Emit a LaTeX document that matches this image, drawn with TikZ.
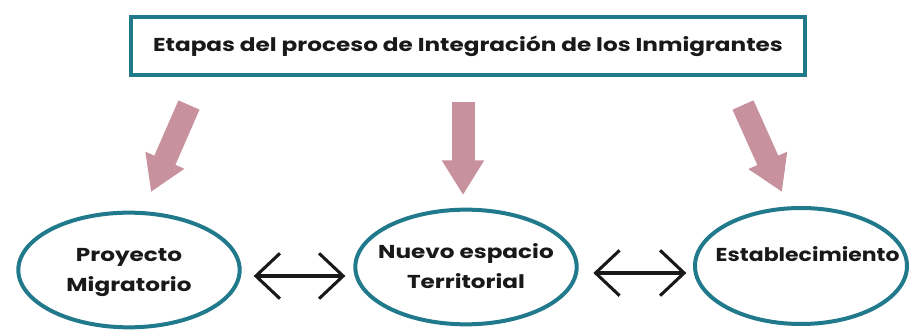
\documentclass[tikz,border=0pt]{standalone}
\usepackage{fontspec}
\setmainfont{Poppins}[FakeStretch=1.24]
\usetikzlibrary{shapes.geometric,arrows.meta}
\definecolor{teal1}{RGB}{33,121,140}
\definecolor{pink1}{RGB}{200,145,158}
\definecolor{ink}{RGB}{25,25,25}
\newcommand{\twolines}[2]{\makebox[0pt]{\raisebox{-4pt}{\begin{tabular}{@{}c@{}}#1\\#2\end{tabular}}}}
\newcommand{\oneline}[1]{\makebox[0pt]{\hspace{10pt}\raisebox{3pt}{\scalebox{0.95}[1]{#1}}}}
\tikzset{
  titlebox/.style={draw=teal1, line width=3pt, minimum width=505pt, minimum height=43.5pt, inner sep=0pt, font=\bfseries\fontsize{14}{16}\selectfont, text=ink},
  stage/.style={ellipse, draw=teal1, line width=3pt, inner sep=0pt, text height=0pt, text depth=0pt, align=center, font=\bfseries\fontsize{14}{22}\selectfont, text=ink},
  fat/.style={draw=pink1, line width=17.25pt, -{Triangle[length=26pt,width=30pt,fill=pink1]}},
  dbl/.style={draw=ink, line width=2.3pt, {Straight Barb[length=18pt,width=34pt]}-{Straight Barb[length=18pt,width=34pt]}}
}
\begin{document}
\begin{tikzpicture}[x=0.75pt,y=-0.75pt]
\useasboundingbox (0,0) rectangle (911,331);
\node[titlebox] (title) at (468,46) {Etapas del proceso de Integración de los Inmigrantes};
\node[stage, minimum width=166pt, minimum height=86pt] (e1) at (129,270) {\twolines{Proyecto}{Migratorio}};
\node[stage, minimum width=166pt, minimum height=86pt] (e2) at (466,267) {\twolines{Nuevo espacio}{Territorial}};
\node[stage, minimum width=159pt, minimum height=87pt] (e3) at (801,266) {\oneline{Establecimiento}};
\coordinate (a1s) at (189,105); \coordinate (a1e) at (151,192);
\coordinate (a2s) at (463,102); \coordinate (a2e) at (463,195);
\coordinate (a3s) at (743,105); \coordinate (a3e) at (782,192);
\draw[fat] (a1s) -- (a1e);
\draw[fat] (a2s) -- (a2e);
\draw[fat] (a3s) -- (a3e);
\draw[dbl] ([xshift=9pt,yshift=-4.5pt]e1.east) -- ([xshift=-6pt,yshift=-6.75pt]e2.west);
\draw[dbl] ([xshift=11pt,yshift=-4.5pt]e2.east) -- ([xshift=-5pt,yshift=-5.25pt]e3.west);
\end{tikzpicture}
\end{document}
